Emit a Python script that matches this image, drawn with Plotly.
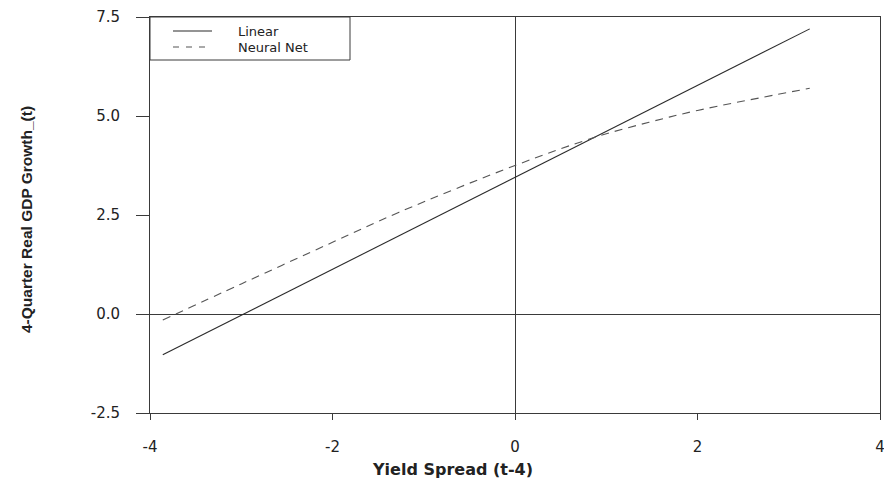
import plotly.graph_objects as go

# Data
linear_x = [-3.86, 3.23]
linear_y = [-1.03, 7.20]

nn_x = [-3.86, -3.0, -2.0, -1.27, 0.0, 0.9, 1.5, 2.0, 3.23]
nn_y = [-0.15, 0.76, 1.81, 2.57, 3.75, 4.48, 4.86, 5.14, 5.70]

x_ticks = [-4, -2, 0, 2, 4]
y_ticks = [-2.5, 0.0, 2.5, 5.0, 7.5]
y_tick_labels = ["-2.5", "0.0", "2.5", "5.0", "7.5"]

series_names = ["Linear", "Neural Net"]

# Geometry in window pixels (body margin removed in the page, see post_script)
W, H = 884, 483
PL, PR, PT, PB = 150, 880, 17, 413  # plot area edges
L, R, T, B = PL, W - PR, PT, H - PB
PW, PH = PR - PL, PB - PT


def px(xp):
    return (xp - PL) / PW


def py(yp):
    return 1 - (yp - PT) / PH


line_color = "#2a2a2a"
dash_color = "#555555"
dash_style = "8px,6px"
axis_color = "#3a3a3a"
tick_font = dict(size=15, family="DejaVu Sans, Verdana, sans-serif", color="#222222")

fig = go.Figure()
fig.add_trace(go.Scatter(x=linear_x, y=linear_y, mode="lines", name=series_names[0],
                         line=dict(color=line_color, width=1.1)))
fig.add_trace(go.Scatter(x=nn_x, y=nn_y, mode="lines", name=series_names[1],
                         line=dict(color=dash_color, width=1.1, dash=dash_style, shape="spline")))

# Legend box drawn as in the original (wide box in the top-left corner)
shapes = [
    dict(type="rect", xref="paper", yref="paper", x0=0, x1=px(350), y0=py(60), y1=1,
         line=dict(color=axis_color, width=1), fillcolor="white", layer="above"),
    dict(type="line", xref="paper", yref="paper", x0=px(173), x1=px(212), y0=py(31), y1=py(31),
         line=dict(color=line_color, width=1.1), layer="above"),
    dict(type="line", xref="paper", yref="paper", x0=px(173), x1=px(212), y0=py(47), y1=py(47),
         line=dict(color=dash_color, width=1.1, dash="6px,7px"), layer="above"),
]

legend_font = dict(size=13, family="DejaVu Sans, Verdana, sans-serif", color="#222222")

fig.update_layout(
    width=W, height=H,
    margin=dict(l=L, r=R, t=T, b=B, autoexpand=False),
    paper_bgcolor="white", plot_bgcolor="white",
    font=dict(family="DejaVu Sans, Verdana, sans-serif", color="#222222"),
    showlegend=False,
    hovermode=False,
    shapes=shapes,
    xaxis=dict(range=[-4, 4], tickvals=x_ticks, ticktext=[str(v) for v in x_ticks],
               showgrid=False, zeroline=True, zerolinecolor=axis_color, zerolinewidth=1,
               showline=True, linecolor=axis_color, linewidth=1, mirror=True,
               ticks="outside", ticklen=6, tickcolor=axis_color, automargin=False,
               tickfont=tick_font, ticklabelstandoff=14, ticklabeloverflow="allow"),
    yaxis=dict(range=[-2.5, 7.5], tickvals=y_ticks, ticktext=y_tick_labels,
               showgrid=False, zeroline=True, zerolinecolor=axis_color, zerolinewidth=1,
               showline=True, linecolor=axis_color, linewidth=1, mirror=True,
               ticks="outside", ticklen=13, tickcolor=axis_color, automargin=False,
               tickfont=tick_font, ticklabelstandoff=13, ticklabeloverflow="allow"),
    annotations=[
        dict(text=series_names[0], xref="paper", yref="paper", x=px(236), y=py(31),
             xanchor="left", yanchor="middle", showarrow=False, font=legend_font),
        dict(text=series_names[1], xref="paper", yref="paper", x=px(236), y=py(47),
             xanchor="left", yanchor="middle", showarrow=False, font=legend_font),
        dict(text="<b>Yield Spread (t-4)</b>", xref="paper", yref="paper",
             x=px(452), y=py(469), xanchor="center", yanchor="middle",
             showarrow=False,
             font=dict(size=16, family="DejaVu Sans, Verdana, sans-serif", color="#222222")),
        dict(text="<b>4-Quarter Real GDP Growth_(t)</b>", xref="paper", yref="paper",
             x=px(26), y=py(220), xanchor="center", yanchor="middle", textangle=-90,
             showarrow=False,
             font=dict(size=15.5, family="Liberation Sans Narrow, Arial Narrow, sans-serif",
                       color="#222222")),
    ],
)

post = ("document.documentElement.style.margin='0';document.body.style.margin='0';"
        "document.documentElement.style.overflow='hidden';document.body.style.overflow='hidden';")
fig.write_html("out.html", post_script=post, config={"displayModeBar": False})
